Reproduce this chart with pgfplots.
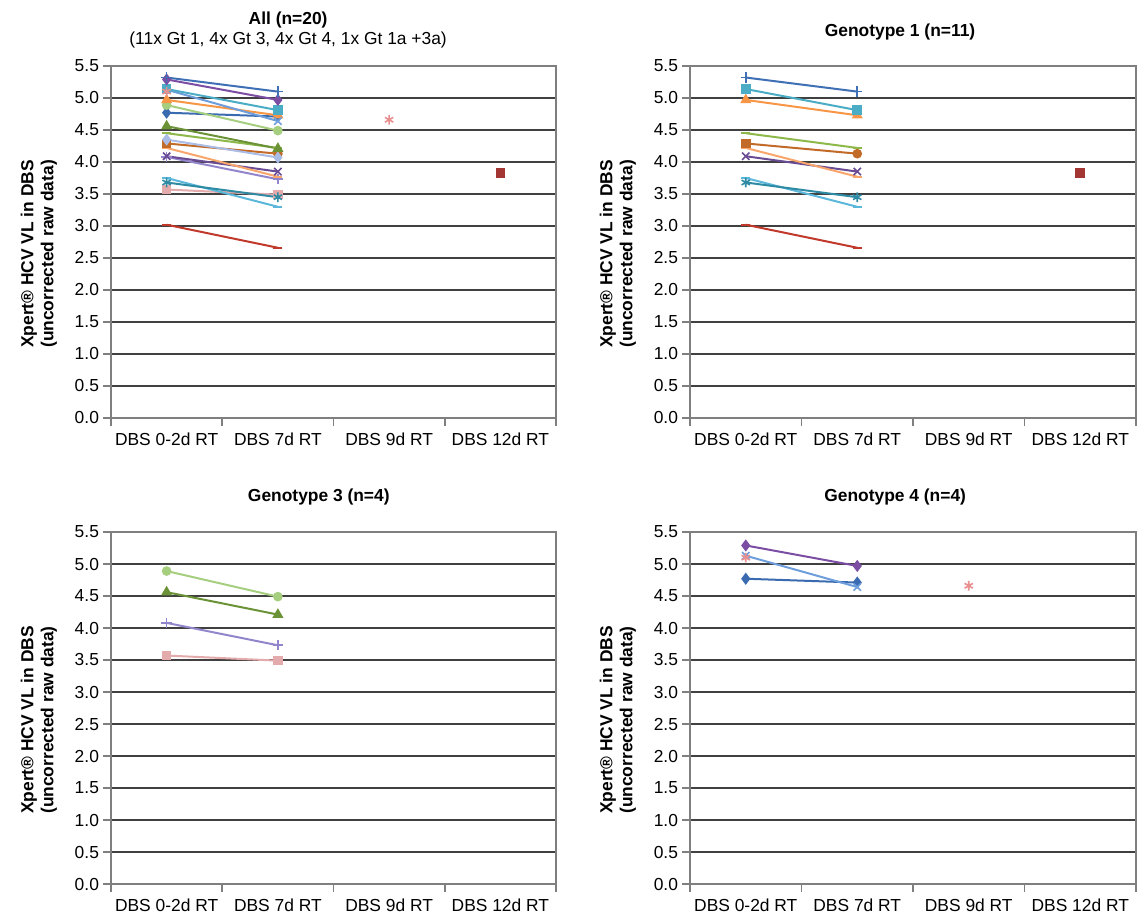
\documentclass[border=0pt]{standalone}
\usepackage{pgfplots}
\pgfplotsset{compat=1.18}
\usepackage{fontspec}
\setmainfont{Liberation Sans}

\definecolor{gridc}{HTML}{404040}
\definecolor{axisc}{HTML}{7F7F7F}
\definecolor{c1}{HTML}{3F6FB5}
\definecolor{c2}{HTML}{7B4EA3}
\definecolor{c3}{HTML}{4BACC6}
\definecolor{c4}{HTML}{6D9EDB}
\definecolor{c5}{HTML}{E8908F}
\definecolor{c6}{HTML}{F79646}
\definecolor{c7}{HTML}{A6CE7F}
\definecolor{c8}{HTML}{3A6AB0}
\definecolor{c9}{HTML}{6B9236}
\definecolor{c10}{HTML}{8DB84A}
\definecolor{c11}{HTML}{A9BCE6}
\definecolor{c12}{HTML}{C26A28}
\definecolor{c13}{HTML}{F9A66C}
\definecolor{c14}{HTML}{6A4C94}
\definecolor{c15}{HTML}{9385CC}
\definecolor{c16}{HTML}{2E8BA3}
\definecolor{c17}{HTML}{5BB8DB}
\definecolor{c18}{HTML}{E3ABAB}
\definecolor{c19}{HTML}{C0392B}
\definecolor{c20}{HTML}{A33533}

\newcommand{\lblfont}{\fontsize{8.7}{10}\selectfont}

\pgfplotsset{
  panel/.style={
    scale only axis, height=176pt,
    xmin=-0.5, xmax=3.5, ymin=0, ymax=5.5,
    xtick={0,1,2,3},
    xticklabels={DBS 0-2d RT, DBS 7d RT, DBS 9d RT, DBS 12d RT},
    minor xtick={-0.5,0.5,1.5,2.5,3.5},
    ytick={0,0.5,1,1.5,2,2.5,3,3.5,4,4.5,5,5.5},
    yticklabel style={/pgf/number format/fixed, /pgf/number format/fixed zerofill, /pgf/number format/precision=1, xshift=1.5pt},
    /pgf/number format/assume math mode=true,
    ymajorgrids, major grid style={color=gridc, line width=0.8pt},
    axis line style={color=axisc, line width=0.8pt},
    tick align=outside, tick pos=left,
    major x tick style={draw=none},
    minor x tick style={color=axisc, line width=0.8pt},
    major y tick style={color=axisc, line width=0.8pt},
    major tick length=4pt, minor tick length=4pt,
    tick label style={font=\lblfont},
    unbounded coords=jump,
    title style={align=center, anchor=center, yshift=-6pt, font=\lblfont},
    ylabel={Xpert® HCV VL in DBS\\(uncorrected raw data)},
    ylabel style={at={(-0.162,0.466)}, anchor=center, align=center, font=\lblfont\bfseries},
  },
  ser/.style={color=#1, line width=1pt, mark options={solid, fill=#1, line width=0.8pt}, mark size=1.9pt},
  s1/.style={ser=c1, mark=+, mark size=2.6pt},
  s2/.style={ser=c2, mark=diamond*, mark size=2.4pt},
  s3/.style={ser=c3, mark=square*, mark size=2pt},
  s4/.style={ser=c4, mark=x, mark size=2.6pt},
  s5/.style={ser=c5, mark=asterisk, mark size=2.4pt},
  s6/.style={ser=c6, mark=triangle*, mark size=2.4pt},
  s7/.style={ser=c7, mark=*, mark size=2pt},
  s8/.style={ser=c8, mark=diamond*, mark size=2.4pt},
  s9/.style={ser=c9, mark=triangle*, mark size=2.4pt},
  s10/.style={ser=c10, mark=-, mark size=2.2pt},
  s11/.style={ser=c11, mark=diamond*, mark size=2.4pt},
  s12/.style={ser=c12, mark=*, mark size=2pt, mark indices={2}},
  s12b/.style={ser=c12, only marks, mark=square*, mark size=2pt},
  s13/.style={ser=c13, mark=-, mark size=2.2pt},
  s14/.style={ser=c14, mark=x, mark size=2.6pt},
  s15/.style={ser=c15, mark=+, mark size=2.6pt},
  s16/.style={ser=c16, mark=asterisk, mark size=2.4pt},
  s17/.style={ser=c17, mark=-, mark size=2.2pt},
  s18/.style={ser=c18, mark=square*, mark size=2pt},
  s19/.style={ser=c19, mark=-, mark size=2.2pt},
  s20/.style={ser=c20, mark=square*, mark size=2pt},
}

\begin{document}
\begin{tikzpicture}
\useasboundingbox (0,0) rectangle (571.5pt,-456.5pt);

% ---------------- All ----------------
\begin{axis}[panel, width=222.5pt, at={(55.5pt,-209pt)}, anchor=south west,
  title={\textbf{All (n=20)}\\(11x Gt 1, 4x Gt 3, 4x Gt 4, 1x Gt 1a +3a)},
  title style={at={(0.398,1.102)}}]
\addplot[s19] coordinates {(0,3.02) (1,2.66)};
\addplot[s18] coordinates {(0,3.57) (1,3.49)};
\addplot[s17] coordinates {(0,3.75) (1,3.30)};
\addplot[s16] coordinates {(0,3.68) (1,3.45)};
\addplot[s15] coordinates {(0,4.08) (1,3.73)};
\addplot[s14] coordinates {(0,4.09) (1,3.85)};
\addplot[s13] coordinates {(0,4.22) (1,3.77)};
\addplot[s12] coordinates {(0,4.29) (1,4.13)};
\addplot[s12b] coordinates {(0,4.29)};
\addplot[s11] coordinates {(0,4.35) (1,4.07)};
\addplot[s10] coordinates {(0,4.45) (1,4.22)};
\addplot[s9] coordinates {(0,4.56) (1,4.21)};
\addplot[s8] coordinates {(0,4.77) (1,4.71)};
\addplot[s7] coordinates {(0,4.89) (1,4.49)};
\addplot[s6] coordinates {(0,4.97) (1,4.73)};
\addplot[s4] coordinates {(0,5.13) (1,4.64)};
\addplot[s3] coordinates {(0,5.14) (1,4.81)};
\addplot[s2] coordinates {(0,5.29) (1,4.97)};
\addplot[s1] coordinates {(0,5.32) (1,5.10)};
\addplot[s5] coordinates {(0,5.10) (1,nan) (2,4.66)};
\addplot[s20] coordinates {(3,3.83)};
\end{axis}

% ---------------- Genotype 1 ----------------
\begin{axis}[panel, width=223pt, at={(345pt,-209pt)}, anchor=south west,
  title={\textbf{Genotype 1 (n=11)}},
  title style={at={(0.471,1.097)}}]
\addplot[s19] coordinates {(0,3.02) (1,2.66)};
\addplot[s17] coordinates {(0,3.75) (1,3.30)};
\addplot[s16] coordinates {(0,3.68) (1,3.45)};
\addplot[s14] coordinates {(0,4.09) (1,3.85)};
\addplot[s13] coordinates {(0,4.22) (1,3.77)};
\addplot[s12] coordinates {(0,4.29) (1,4.13)};
\addplot[s12b] coordinates {(0,4.29)};
\addplot[s10] coordinates {(0,4.45) (1,4.22)};
\addplot[s6] coordinates {(0,4.97) (1,4.73)};
\addplot[s3] coordinates {(0,5.14) (1,4.81)};
\addplot[s1] coordinates {(0,5.32) (1,5.10)};
\addplot[s20] coordinates {(3,3.83)};
\end{axis}

% ---------------- Genotype 3 ----------------
\begin{axis}[panel, width=222.5pt, at={(55.5pt,-442pt)}, anchor=south west,
  title={\textbf{Genotype 3 (n=4)}},
  title style={at={(0.467,1.099)}}]
\addplot[s18] coordinates {(0,3.57) (1,3.49)};
\addplot[s15] coordinates {(0,4.08) (1,3.73)};
\addplot[s9] coordinates {(0,4.56) (1,4.21)};
\addplot[s7] coordinates {(0,4.89) (1,4.49)};
\end{axis}

% ---------------- Genotype 4 ----------------
\begin{axis}[panel, width=223pt, at={(345pt,-442pt)}, anchor=south west,
  title={\textbf{Genotype 4 (n=4)}},
  title style={at={(0.460,1.099)}}]
\addplot[s8] coordinates {(0,4.77) (1,4.71)};
\addplot[s4] coordinates {(0,5.13) (1,4.64)};
\addplot[s2] coordinates {(0,5.29) (1,4.97)};
\addplot[s5] coordinates {(0,5.10) (1,nan) (2,4.66)};
\end{axis}
\end{tikzpicture}
\end{document}
